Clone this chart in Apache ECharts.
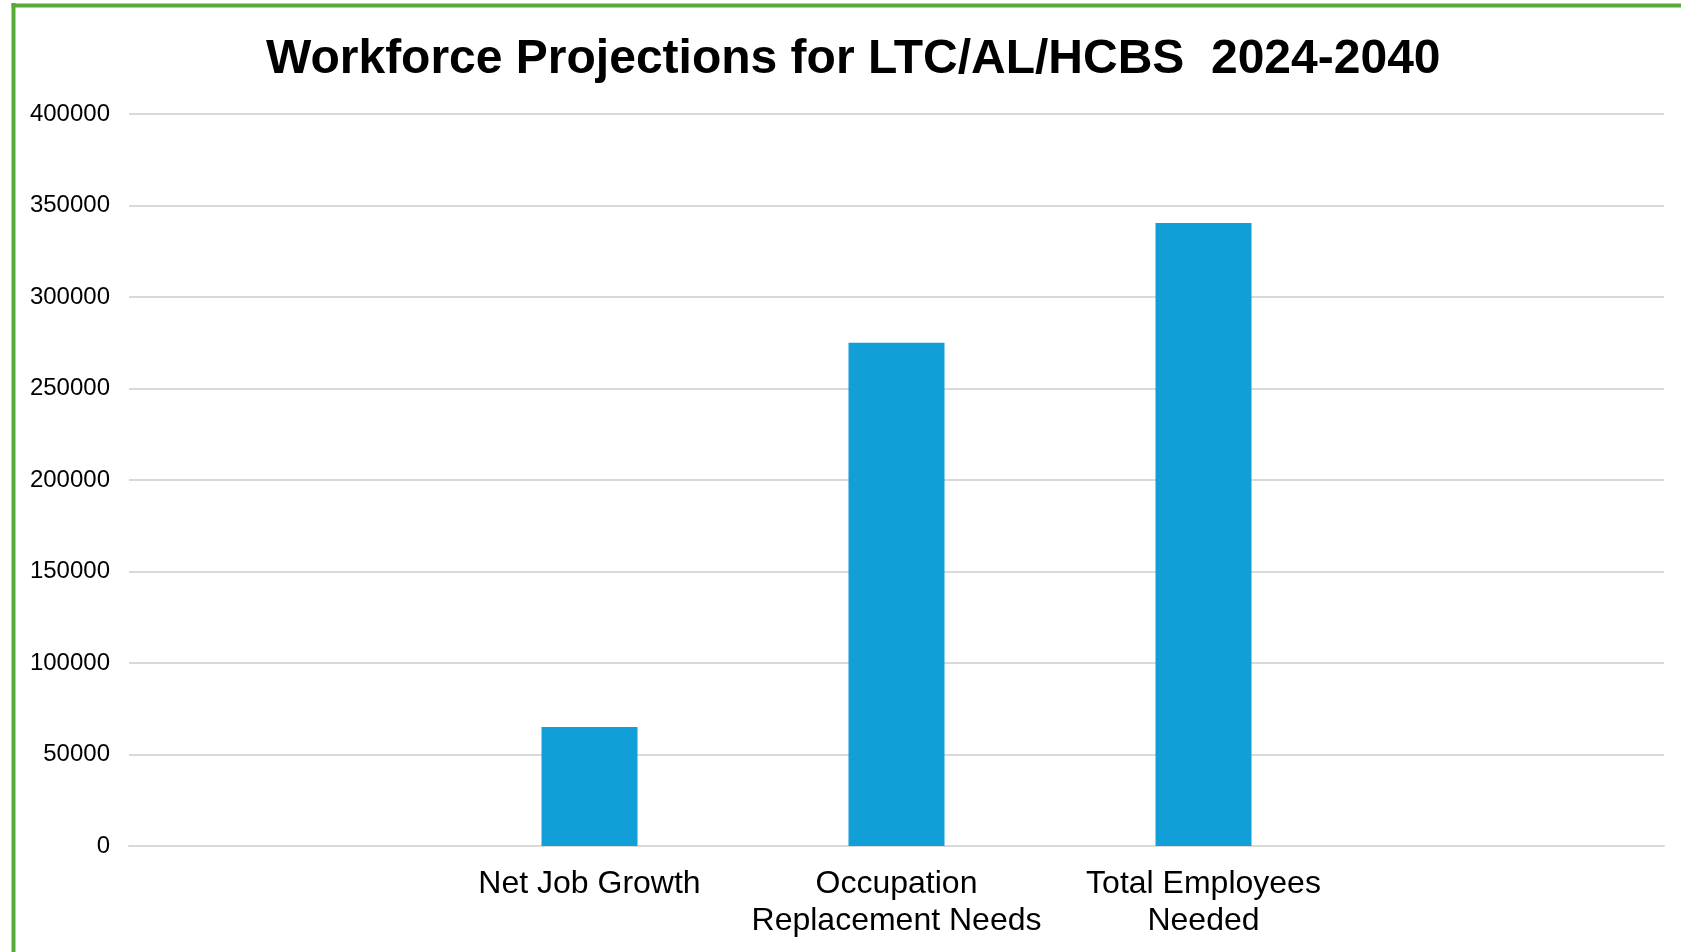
<!DOCTYPE html>
<html>
<head>
<meta charset="utf-8">
<script src="https://cdn.jsdelivr.net/npm/echarts@6/dist/echarts.min.js"></script>
<style>
  html, body { margin: 0; padding: 0; background: #ffffff; }
  #chart { width: 1681px; height: 952px; }
</style>
</head>
<body>
<div id="chart"></div>
<script>
const titleText = 'Workforce Projections for LTC/AL/HCBS  2024-2040';
const categories = ['', 'Net Job Growth', 'Occupation\nReplacement Needs', 'Total Employees\nNeeded', ''];
const values = ['-', 65000, 275000, 340500, '-'];
const yMin = 0;
const yMax = 400000;
const yStep = 50000;

const chart = echarts.init(document.getElementById('chart'), null, { renderer: 'canvas' });
const FONT = '"Liberation Sans", Arial, sans-serif';

chart.setOption({
  backgroundColor: '#ffffff',
  animation: false,
  title: {
    text: titleText,
    left: 266,
    top: 36,
    padding: 0,
    textStyle: { fontFamily: FONT, fontWeight: 'bold', fontSize: 48, color: '#000000' }
  },
  grid: { left: 129, right: 17, top: 114, bottom: 106, containLabel: false },
  xAxis: {
    type: 'category',
    data: categories,
    axisTick: { show: false },
    axisLine: { show: true, lineStyle: { color: '#d9d9d9', width: 2 } },
    axisLabel: {
      interval: 0,
      margin: 20,
      fontFamily: FONT,
      fontSize: 32,
      lineHeight: 37,
      color: '#000000'
    }
  },
  yAxis: {
    type: 'value',
    min: yMin,
    max: yMax,
    interval: yStep,
    axisLine: { show: false },
    axisTick: { show: false },
    splitLine: { show: true, lineStyle: { color: '#d9d9d9', width: 2 } },
    axisLabel: {
      margin: 19,
      fontFamily: FONT,
      fontSize: 24,
      color: '#000000',
      formatter: function (v) { return String(v); }
    }
  },
  series: [{
    type: 'bar',
    data: values,
    barWidth: 96,
    itemStyle: { color: '#129ED6' }
  }],
  graphic: [
    { type: 'line', shape: { x1: 13.5, y1: 3, x2: 13.5, y2: 952 }, style: { stroke: '#56AB38', lineWidth: 4 } },
    { type: 'line', shape: { x1: 11.5, y1: 5.5, x2: 1681, y2: 5.5 }, style: { stroke: '#56AB38', lineWidth: 4 } }
  ]
});
</script>
</body>
</html>
